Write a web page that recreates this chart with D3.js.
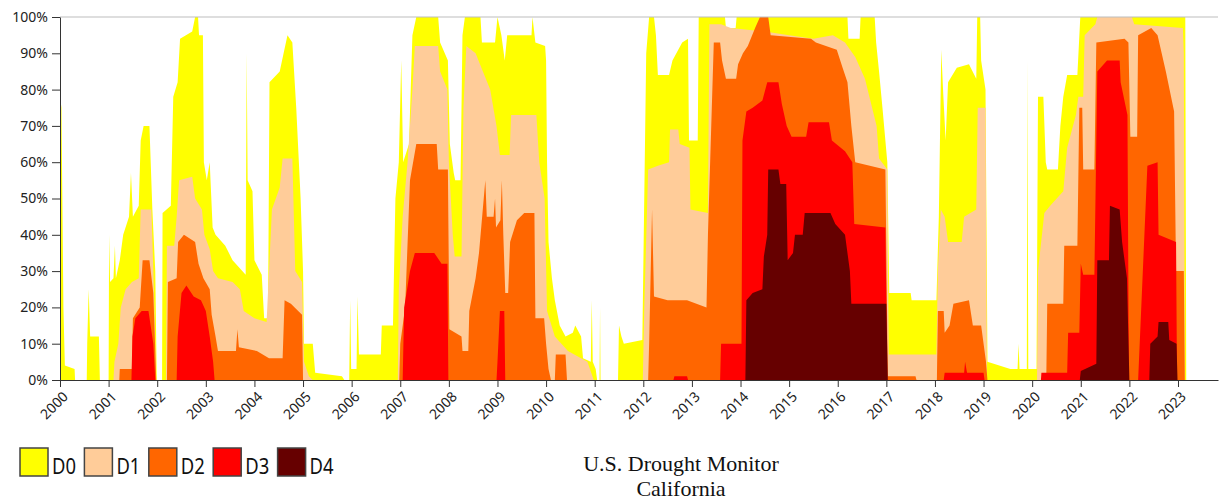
<!DOCTYPE html>
<html>
<head>
<meta charset="utf-8">
<script src="https://cdn.jsdelivr.net/npm/d3@7"></script>
<style>
  html, body { margin: 0; padding: 0; background: #fff; }
  svg { display: block; }
  .axis text { font-family: "Noto Sans", "Open Sans", sans-serif; font-size: 14px; fill: #222; }
  .axis path, .axis line { stroke: #333; }
</style>
</head>
<body>
<div id="chart"></div>
<script>
// Percent of California area in drought, cumulative by category: [decimal year, percent]
const d0 = [
  [2000.00,78],[2000.03,75],[2000.07,20],[2000.10,4],[2000.30,3],[2000.31,0],
  [2000.55,0],[2000.56,10],[2000.59,25],[2000.62,12],[2000.80,12],[2000.82,0],
  [2001.00,0],[2001.01,40],[2001.03,27],[2001.10,28],[2001.13,37],[2001.15,28],[2001.23,33],[2001.30,40],[2001.42,45],[2001.46,57],[2001.50,45],[2001.62,48],[2001.66,66],[2001.72,70],[2001.84,70],[2001.90,47],[2001.96,30],[2001.99,0],
  [2002.10,0],[2002.11,46],[2002.28,48],[2002.33,78],[2002.42,82],[2002.47,94],[2002.72,96],[2002.78,100],[2002.84,100],[2002.86,95],[2002.94,95],[2002.96,60],[2003.02,55],[2003.08,60],[2003.14,42],[2003.20,40],[2003.40,37],[2003.55,33],[2003.75,30],[2003.82,29],[2003.84,90],[2003.86,55],[2003.96,52],[2004.00,33],[2004.15,29],[2004.20,17],[2004.28,17],[2004.31,82],[2004.52,85],[2004.60,90],[2004.68,95],[2004.78,93],[2004.86,75],[2004.95,50],[2005.00,30],[2005.02,10],[2005.20,10],[2005.25,2],[2005.80,1],[2005.85,0],
  [2005.95,0],[2005.97,22],[2005.99,3],[2006.10,3],[2006.12,23],[2006.15,7],[2006.60,7],[2006.62,15],[2006.85,15],[2006.90,50],[2006.97,60],[2007.02,88],[2007.06,60],[2007.18,65],[2007.25,95],[2007.33,100],[2007.78,100],[2007.82,93],[2007.98,88],[2008.02,65],[2008.10,57],[2008.13,55],[2008.24,55],[2008.28,95],[2008.33,100],[2008.65,100],[2008.68,93],[2008.95,93],[2009.00,100],[2009.08,95],[2009.15,88],[2009.20,95],[2009.70,95],[2009.72,100],[2009.78,93],[2009.98,92],
  [2010.00,88],[2010.02,60],[2010.05,38],[2010.12,28],[2010.18,22],[2010.28,15],[2010.40,12],[2010.55,13],[2010.60,15],[2010.72,12],[2010.76,6],[2010.92,5],[2010.94,22],[2010.96,5],[2011.02,3],[2011.05,0],[2011.10,0],[2011.11,20],[2011.12,0],
  [2011.48,0],[2011.50,15],[2011.55,12],[2011.60,10],[2011.98,11],[2012.06,90],[2012.12,100],[2012.22,100],[2012.26,95],[2012.30,84],[2012.53,84],[2012.60,88],[2012.80,93],[2012.92,94],[2012.94,66],[2013.12,66],[2013.14,100],[2013.68,100],[2013.70,97],[2013.90,97],[2013.92,100],
  [2016.20,100],[2016.22,94],[2016.45,94],[2016.47,100],[2016.76,100],[2016.79,93],[2016.85,85],[2016.92,75],[2017.02,60],[2017.06,24],[2017.50,24],[2017.52,22],[2018.03,22],[2018.08,45],[2018.13,91],[2018.17,79],[2018.22,66],[2018.27,82],[2018.45,86],[2018.70,87],[2018.85,83],[2018.87,100],[2018.93,100],[2018.95,88],[2019.04,80],[2019.08,5],
  [2019.55,3],[2019.70,3],[2019.72,10],[2019.74,3],[2019.89,3],[2019.90,88],[2019.92,3],[2020.09,3],[2020.12,78],[2020.23,78],[2020.28,60],[2020.31,58],[2020.53,58],[2020.58,70],[2020.64,78],[2020.72,84],[2020.93,84],[2020.99,100],[2023.15,100],[2023.17,0]
];
const d1 = [
  [2001.10,0],[2001.12,5],[2001.20,10],[2001.25,20],[2001.35,25],[2001.48,27],[2001.62,28],[2001.66,47],[2001.88,47],[2001.92,30],[2001.98,0],
  [2002.18,0],[2002.20,37],[2002.35,37],[2002.40,45],[2002.45,55],[2002.72,56],[2002.78,50],[2002.92,47],[2002.97,40],[2003.08,36],[2003.15,30],[2003.25,28],[2003.55,27],[2003.70,25],[2003.78,19],[2004.00,17],[2004.25,16],[2004.30,30],[2004.36,47],[2004.52,53],[2004.58,61],[2004.78,61],[2004.84,30],[2004.98,27],[2005.02,5],[2005.12,1],[2005.20,0],
  [2006.95,0],[2006.97,25],[2007.05,45],[2007.15,60],[2007.25,80],[2007.30,92],[2007.78,92],[2007.82,85],[2007.97,80],[2008.00,60],[2008.08,40],[2008.12,34],[2008.26,34],[2008.30,75],[2008.36,92],[2008.55,90],[2008.70,85],[2008.85,80],[2008.98,70],[2009.05,62],[2009.25,62],[2009.28,73],[2009.80,73],[2009.86,60],[2009.97,50],[2010.02,19],[2010.18,12],[2010.45,8],[2010.85,5],[2010.98,0],
  [2011.99,0],[2012.02,20],[2012.10,58],[2012.30,59],[2012.53,60],[2012.55,69],[2012.72,69],[2012.75,65],[2012.95,64],[2012.97,47],[2013.33,46],[2013.36,98],[2013.60,98],[2013.80,97],[2014.50,96],[2015.00,95],[2015.50,94],[2015.90,95],[2016.15,93],[2016.36,89],[2016.56,83],[2016.80,70],[2016.85,61],[2017.02,58],[2017.05,7],
  [2018.03,7],[2018.06,30],[2018.12,47],[2018.20,45],[2018.27,38],[2018.55,38],[2018.60,45],[2018.85,47],[2018.88,75],[2019.04,75],[2019.07,0],
  [2020.10,0],[2020.12,30],[2020.25,46],[2020.37,48],[2020.64,52],[2020.72,64],[2020.90,73],[2020.95,78],[2021.05,78],[2021.08,95],[2021.30,98],[2021.34,100],[2022.05,100],[2022.10,98],[2023.10,97],[2023.12,90],[2023.14,0]
];
const d2 = [
  [2001.22,0],[2001.23,3],[2001.48,3],[2001.50,17],[2001.64,20],[2001.70,33],[2001.84,33],[2001.92,24],[2001.98,0],
  [2002.20,0],[2002.22,27],[2002.40,28],[2002.43,38],[2002.55,40],[2002.78,38],[2002.85,32],[2002.95,28],[2003.08,25],[2003.12,18],[2003.20,12],[2003.25,8],[2003.62,8],[2003.65,14],[2003.68,9],[2004.05,8],[2004.30,6],[2004.58,6],[2004.62,22],[2004.75,21],[2004.90,19],[2004.98,18],[2005.00,0],
  [2006.98,0],[2007.00,10],[2007.10,20],[2007.20,55],[2007.33,65],[2007.75,65],[2007.78,58],[2007.98,58],[2008.01,14],[2008.26,12],[2008.28,8],[2008.40,8],[2008.42,19],[2008.55,28],[2008.62,35],[2008.75,55],[2008.78,45],[2008.92,45],[2008.95,50],[2008.97,42],[2009.06,44],[2009.09,55],[2009.12,40],[2009.16,24],[2009.22,24],[2009.26,38],[2009.40,44],[2009.55,46],[2009.76,46],[2009.78,17],[2009.96,17],[2010.00,10],[2010.05,3],[2010.10,0],[2010.18,0],[2010.20,7],[2010.40,7],[2010.43,0],
  [2012.10,0],[2012.12,10],[2012.18,47],[2012.22,23],[2012.50,22],[2012.90,22],[2013.30,20],[2013.33,40],[2013.45,93],[2013.58,93],[2013.62,88],[2013.70,83],[2013.91,83],[2013.95,87],[2014.05,90],[2014.15,92],[2014.30,97],[2014.40,100],[2014.57,100],[2014.62,95],[2015.45,94],[2015.55,93],[2015.98,91],[2016.10,86],[2016.20,82],[2016.28,70],[2016.36,60],[2016.98,58],[2017.03,1],[2017.60,1],[2017.62,0],
  [2018.04,0],[2018.06,19],[2018.18,19],[2018.20,13],[2018.30,15],[2018.38,21],[2018.70,22],[2018.78,15],[2018.95,15],[2019.05,5],[2019.08,0],
  [2020.29,0],[2020.31,21],[2020.64,21],[2020.66,37],[2020.93,37],[2020.97,75],[2021.03,75],[2021.05,58],[2021.28,58],[2021.32,93],[2021.90,94],[2021.98,93],[2022.02,67],[2022.16,67],[2022.18,95],[2022.45,97],[2022.58,95],[2022.75,85],[2022.92,74],[2022.96,30],[2023.12,30],[2023.14,0]
];
const d3v = [
  [2001.47,0],[2001.49,12],[2001.55,17],[2001.68,19],[2001.82,19],[2001.92,10],[2001.96,0],
  [2002.40,0],[2002.42,12],[2002.50,24],[2002.60,26],[2002.75,23],[2002.90,22],[2003.00,19],[2003.08,12],[2003.15,5],[2003.18,0],
  [2007.05,0],[2007.08,20],[2007.20,30],[2007.30,35],[2007.70,35],[2007.85,32],[2007.97,32],[2007.99,0],
  [2008.98,0],[2009.00,5],[2009.05,19],[2009.14,19],[2009.16,0],
  [2012.62,0],[2012.64,1],[2012.90,1],[2012.92,0],
  [2013.58,0],[2013.60,10],[2014.02,10],[2014.04,66],[2014.12,74],[2014.25,75],[2014.45,77],[2014.55,82],[2014.78,82],[2014.85,76],[2014.95,70],[2015.05,67],[2015.35,67],[2015.40,71],[2015.82,71],[2015.88,66],[2016.15,63],[2016.30,60],[2016.34,43],[2016.98,42],[2017.02,0],
  [2018.18,0],[2018.20,2],[2018.60,2],[2018.62,5],[2018.66,2],[2019.00,2],[2019.02,0],
  [2020.18,0],[2020.19,2],[2020.72,2],[2020.74,13],[2020.97,13],[2021.00,32],[2021.05,29],[2021.28,29],[2021.34,85],[2021.54,88],[2021.80,88],[2021.82,82],[2021.96,73],[2021.99,0],
  [2022.18,0],[2022.37,59],[2022.58,60],[2022.60,40],[2022.96,38],[2022.98,0]
];
const d4 = [
  [2014.10,0],[2014.12,22],[2014.25,24],[2014.45,25],[2014.48,34],[2014.55,40],[2014.57,58],[2014.78,58],[2014.82,54],[2014.94,54],[2014.97,33],[2015.08,35],[2015.12,40],[2015.28,40],[2015.32,46],[2015.85,46],[2015.95,43],[2016.15,40],[2016.25,30],[2016.28,21],[2017.00,21],[2017.03,0],
  [2020.98,0],[2021.00,2.5],[2021.32,4.5],[2021.34,33],[2021.58,33],[2021.60,48],[2021.80,47],[2021.85,38],[2021.95,28],[2022.00,0],
  [2022.41,0],[2022.43,10],[2022.58,12],[2022.60,16],[2022.80,16],[2022.82,11],[2022.97,10],[2022.99,0]
];

const categories = ['D0', 'D1', 'D2', 'D3', 'D4'];
const colors = ['#ffff00', '#ffcc99', '#ff6600', '#ff0000', '#660000'];
const yearTicks = [2000, 2001, 2002, 2003, 2004, 2005, 2006, 2007, 2008, 2009, 2010, 2011,
  2012, 2013, 2014, 2015, 2016, 2017, 2018, 2019, 2020, 2021, 2022, 2023];
const pctTicks = [0, 10, 20, 30, 40, 50, 60, 70, 80, 90, 100];
const titleLines = ['U.S. Drought Monitor', 'California'];

const series = [d0, d1, d2, d3v, d4];

const W = 1220, H = 501;
const margin = { top: 17, right: 2, bottom: 121, left: 60 };
const width = W - margin.left - margin.right;
const height = H - margin.top - margin.bottom;

const svg = d3.select('#chart').append('svg')
  .attr('width', W).attr('height', H);

const g = svg.append('g').attr('transform', `translate(${margin.left},${margin.top})`);

const x = d3.scaleLinear().domain([2000, 2023.823]).range([0, width]);
const y = d3.scaleLinear().domain([0, 100]).range([height, 0]);

// Areas, lightest category at the back
const area = d3.area()
  .x(d => x(d[0]))
  .y0(height)
  .y1(d => y(d[1]));

g.selectAll('.cat').data(series)
  .join('path').attr('class', 'cat')
  .attr('d', area)
  .attr('fill', (d, i) => colors[i]);

// Top frame line
g.append('line')
  .attr('x1', 0).attr('x2', width).attr('y1', 0).attr('y2', 0)
  .attr('stroke', '#bdbdbd').attr('stroke-width', 1);

// Axes
g.append('g').attr('class', 'axis')
  .call(d3.axisLeft(y).tickValues(pctTicks).tickFormat(d => d + '%')
    .tickSize(8).tickPadding(4).tickSizeOuter(0));

const xAxis = g.append('g').attr('class', 'axis')
  .attr('transform', `translate(0,${height})`)
  .call(d3.axisBottom(x).tickValues(yearTicks).tickFormat(d3.format('d'))
    .tickSize(7).tickSizeOuter(0));
xAxis.selectAll('text')
  .attr('x', 0).attr('y', 0).attr('dy', '0.35em')
  .style('text-anchor', 'end')
  .attr('transform', 'translate(5,14) rotate(-45)');

// Legend
const legend = svg.append('g').attr('transform', 'translate(20,448)');
const item = legend.selectAll('g').data(categories)
  .join('g').attr('transform', (d, i) => `translate(${i * 64.4},0)`);
item.append('rect')
  .attr('width', 28).attr('height', 28)
  .attr('fill', (d, i) => colors[i])
  .attr('stroke', '#444').attr('stroke-width', 1.5);
item.append('text')
  .attr('x', 32).attr('y', 26)
  .attr('textLength', 24).attr('lengthAdjust', 'spacingAndGlyphs')
  .style('font-family', '"Noto Sans", sans-serif').style('font-size', '22px')
  .attr('fill', '#111')
  .text(d => d);

// Title
svg.append('g').selectAll('text').data(titleLines)
  .join('text')
  .attr('x', 681).attr('y', (d, i) => 471 + i * 25)
  .attr('text-anchor', 'middle')
  .style('font-family', '"Liberation Serif", "Times New Roman", serif')
  .style('font-size', '22px')
  .attr('fill', '#111')
  .text(d => d);
</script>
</body>
</html>
